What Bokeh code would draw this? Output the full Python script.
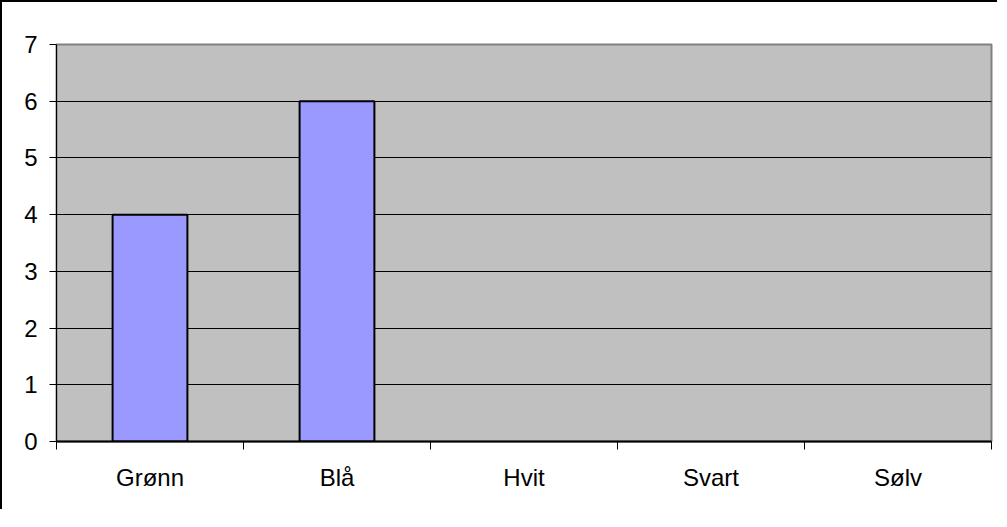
from bokeh.plotting import figure
from bokeh.models import FixedTicker, ColumnDataSource, Range1d
from bokeh.embed import file_html
from bokeh.resources import INLINE

categories = ["Grønn", "Blå", "Hvit", "Svart", "Sølv"]
values = [4, 6, 0, 0, 0]
y_ticks = [0, 1, 2, 3, 4, 5, 6, 7]

centers = [i + 0.5 for i in range(len(categories))]
src = ColumnDataSource(dict(x=[c for c, v in zip(centers, values) if v > 0],
                            top=[v for v in values if v > 0]))

FONT = "Liberation Sans"
FS = "24px"

p = figure(frame_width=935, frame_height=397, output_backend="svg",
           toolbar_location=None,
           x_range=Range1d(0, len(categories)), y_range=Range1d(0, 7),
           min_border_left=54, min_border_top=42, min_border_right=6,
           min_border_bottom=68)
p.styles = {"border-left": "2px solid black", "border-top": "2px solid black"}
p.background_fill_color = "#C0C0C0"
p.border_fill_color = "white"
p.outline_line_color = "#808080"
p.outline_line_width = 2

p.vbar(x="x", top="top", width=0.4, bottom=0, source=src,
       fill_color="#9999FF", line_color="black", line_width=2)

# grid
p.xgrid.visible = False
p.ygrid.ticker = FixedTicker(ticks=y_ticks[1:-1])
p.ygrid.grid_line_color = "black"
p.ygrid.grid_line_width = 1

# y axis
p.yaxis.ticker = FixedTicker(ticks=y_ticks)
p.yaxis.axis_line_color = "black"
p.yaxis.axis_line_width = 1
p.yaxis.major_tick_in = 0
p.yaxis.major_tick_out = 7
p.yaxis.minor_tick_line_color = None
p.yaxis.major_label_text_font = FONT
p.yaxis.major_label_text_font_size = FS
p.yaxis.major_label_text_color = "black"
p.yaxis.major_label_standoff = 12

# x axis
p.xaxis.ticker = FixedTicker(ticks=centers,
                             minor_ticks=list(range(len(categories) + 1)))
p.xaxis.major_label_overrides = {c: n for c, n in zip(centers, categories)}
p.xaxis.axis_line_color = "black"
p.xaxis.axis_line_width = 2
p.xaxis.major_tick_line_color = None
p.xaxis.minor_tick_in = 0
p.xaxis.minor_tick_out = 8
p.xaxis.minor_tick_line_color = "black"
p.xaxis.minor_tick_line_width = 1
p.xaxis.major_label_text_font = FONT
p.xaxis.major_label_text_font_size = FS
p.xaxis.major_label_text_color = "black"
p.xaxis.major_label_standoff = 14

open("out.html", "w").write(file_html(p, INLINE))
